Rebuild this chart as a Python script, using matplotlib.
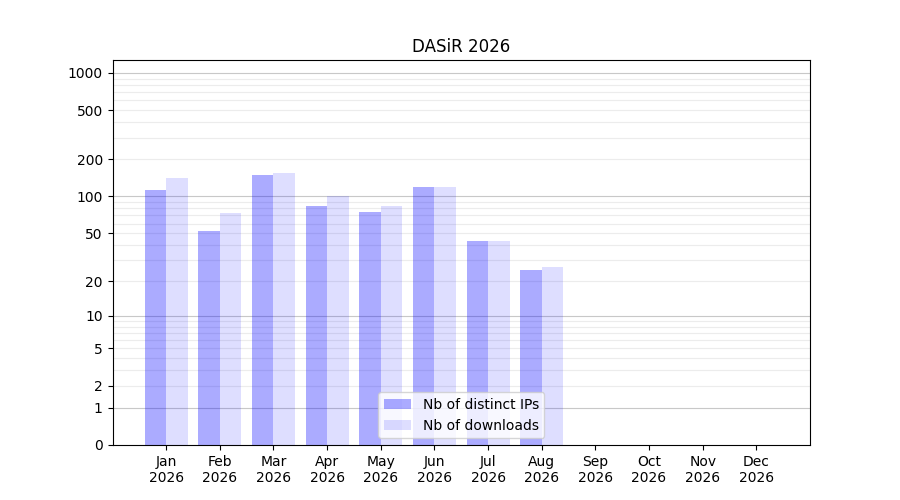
import numpy as np
import matplotlib
matplotlib.use("Agg")
import matplotlib.pyplot as plt

months = ["Jan\n2026", "Feb\n2026", "Mar\n2026", "Apr\n2026", "May\n2026", "Jun\n2026",
          "Jul\n2026", "Aug\n2026", "Sep\n2026", "Oct\n2026", "Nov\n2026", "Dec\n2026"]
distinct_ips = [113, 52, 149, 84, 75, 119, 43, 25, 0, 0, 0, 0]
downloads = [140, 73, 155, 101, 84, 119, 43, 26, 0, 0, 0, 0]
major_ticks = [0, 1, 2, 5, 10, 20, 50, 100, 200, 500, 1000]
decade_ticks = [1, 10, 100, 1000]
minor_ticks = [3, 4, 6, 7, 8, 9, 30, 40, 60, 70, 80, 90, 300, 400, 600, 700, 800, 900]

fig, ax = plt.subplots(figsize=(9, 5), dpi=100)
ax.set_axisbelow(True)

x = np.arange(len(months))
w = 0.4
ax.bar(x - w / 2, distinct_ips, width=w, color="blue", alpha=0.33, label="Nb of distinct IPs")
ax.bar(x + w / 2, downloads, width=w, color="blue", alpha=0.13, label="Nb of downloads")

ax.set_yscale("function", functions=(lambda v: np.log10(1 + np.asarray(v)),
                                     lambda v: 10 ** np.asarray(v) - 1))
ax.set_ylim(0, 1270)
ax.set_xlim(-1, 12)

ax.set_yticks(major_ticks)
ax.set_yticklabels([str(t) for t in major_ticks])
ax.set_yticks(minor_ticks, minor=True)
ax.tick_params(axis="y", which="minor", length=0)
ax.set_xticks(x)
ax.set_xticklabels(months)

ax.grid(True, axis="y", which="major")
ax.grid(True, axis="y", which="minor", color="#ececec", linewidth=0.8)
for t, gl in zip(ax.yaxis.get_major_ticks(), ax.yaxis.get_gridlines()):
    pass
for tick in ax.yaxis.get_major_ticks():
    val = tick.get_loc()
    gl = tick.gridline
    if val == 0:
        gl.set_visible(False)
    elif val in decade_ticks:
        gl.set_color("#c8c8c8")
        gl.set_linewidth(0.8)
    else:
        gl.set_color("#ececec")
        gl.set_linewidth(0.8)

ax.set_title("DASiR 2026")
ax.legend(loc="lower center")

fig.savefig("out.png", dpi=100)
